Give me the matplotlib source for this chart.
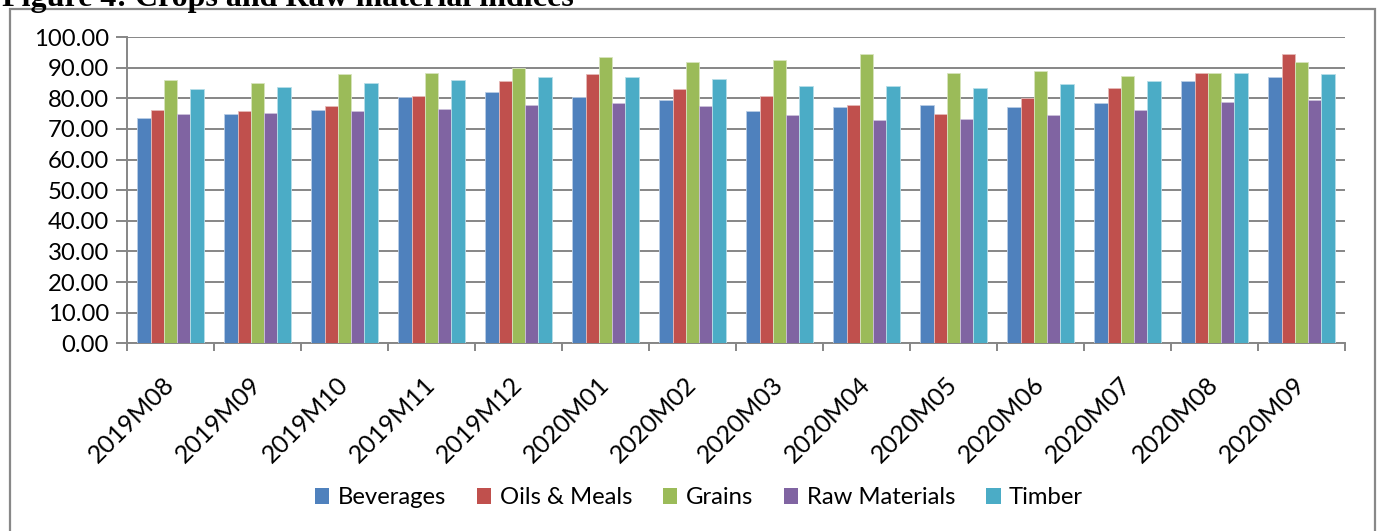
import matplotlib
matplotlib.use("Agg")
import matplotlib.pyplot as plt
import numpy as np
from matplotlib.patches import Patch, Rectangle

months = ["2019M08", "2019M09", "2019M10", "2019M11", "2019M12", "2020M01", "2020M02",
          "2020M03", "2020M04", "2020M05", "2020M06", "2020M07", "2020M08", "2020M09"]
beverages = [73.5, 74.8, 76.1, 80.3, 82.1, 80.5, 79.4, 75.8, 77.1, 77.7, 77.3, 78.3, 85.5, 87.1]
oils_meals = [76.2, 75.9, 77.5, 80.8, 85.5, 87.8, 83.0, 80.6, 77.7, 74.9, 80.1, 83.5, 88.2, 94.3]
grains = [86.0, 85.0, 88.0, 88.2, 89.9, 93.6, 91.7, 92.4, 94.4, 88.2, 88.8, 87.4, 88.2, 91.9]
raw_materials = [74.8, 75.2, 75.7, 76.5, 77.9, 78.5, 77.5, 74.6, 73.0, 73.2, 74.4, 76.1, 78.9, 79.4]
timber = [83.0, 83.8, 85.1, 86.0, 87.1, 86.9, 86.3, 84.0, 84.0, 83.5, 84.6, 85.6, 88.2, 87.8]

series_names = ["Beverages", "Oils & Meals", "Grains", "Raw Materials", "Timber"]
series_values = [beverages, oils_meals, grains, raw_materials, timber]
colors = ["#4F81BD", "#C0504D", "#9BBB59", "#8064A2", "#4BACC6"]
edge_colors = ["#B9CDE5", "#E6B9B8", "#D7E4BD", "#CCC1DA", "#B7DEE8"]

plt.rcParams['font.family'] = ['Lato', 'DejaVu Sans']

W, H = 1380, 531
fig = plt.figure(figsize=(W / 100, H / 100), dpi=100)
ax = fig.add_axes([127 / W, 1 - 343.3 / H, (1345 - 127) / W, (343.3 - 37) / H])

x = np.arange(len(months))
bw = 0.153
n = len(series_names)
for i, (name, vals) in enumerate(zip(series_names, series_values)):
    off = (i - (n - 1) / 2) * bw
    ax.bar(x + off, vals, width=bw, color=colors[i], edgecolor=edge_colors[i],
           linewidth=0.6, zorder=3, label=name)

grid_c = "#868686"
ax.set_xlim(-0.5, len(months) - 0.5)
ax.set_ylim(0, 100)
ax.set_yticks(np.arange(0, 101, 10))
ax.set_yticklabels([f"{v:.2f}" for v in np.arange(0, 101, 10)], fontsize=17.2)
ax.yaxis.grid(True, color=grid_c, linewidth=1.4, zorder=0)
ax.set_axisbelow(True)

ax.set_xticks(np.arange(-0.5, len(months), 1.0))
ax.set_xticklabels([])
ax.set_xticks(x, minor=True)
ax.set_xticklabels(months, minor=True, rotation=45, ha='right', va='center',
                   rotation_mode='anchor', fontsize=18)
ax.tick_params(axis='x', which='minor', length=0, pad=27)
ax.tick_params(axis='x', which='major', length=6, width=1.4, color=grid_c, direction='out')
ax.tick_params(axis='y', length=8, width=1.4, color=grid_c, direction='out', pad=5)

for s in ['top', 'right']:
    ax.spines[s].set_visible(False)
for s in ['left', 'bottom']:
    ax.spines[s].set_color(grid_c)
    ax.spines[s].set_linewidth(1.4)

handles = [Patch(facecolor=c, edgecolor='none') for c in colors]
fig.legend(handles, series_names, loc='center', bbox_to_anchor=(699 / W, 1 - 498 / H),
           ncol=5, frameon=False, fontsize=17.2, handlelength=0.6, handleheight=0.6,
           handletextpad=0.35, columnspacing=1.3)

fig.patches.append(Rectangle((10 / W, -0.02), (1375 - 10) / W, 1.02 - 9 / H,
                             transform=fig.transFigure, fill=False,
                             edgecolor="#888888", linewidth=1.6))

fig.text(2 / W, 1 - 6 / H, "Figure 4: Crops and Raw material indices",
         family=['Liberation Serif', 'DejaVu Serif'], weight='bold', fontsize=23,
         ha='left', va='baseline')

fig.savefig("out.png", dpi=100)
